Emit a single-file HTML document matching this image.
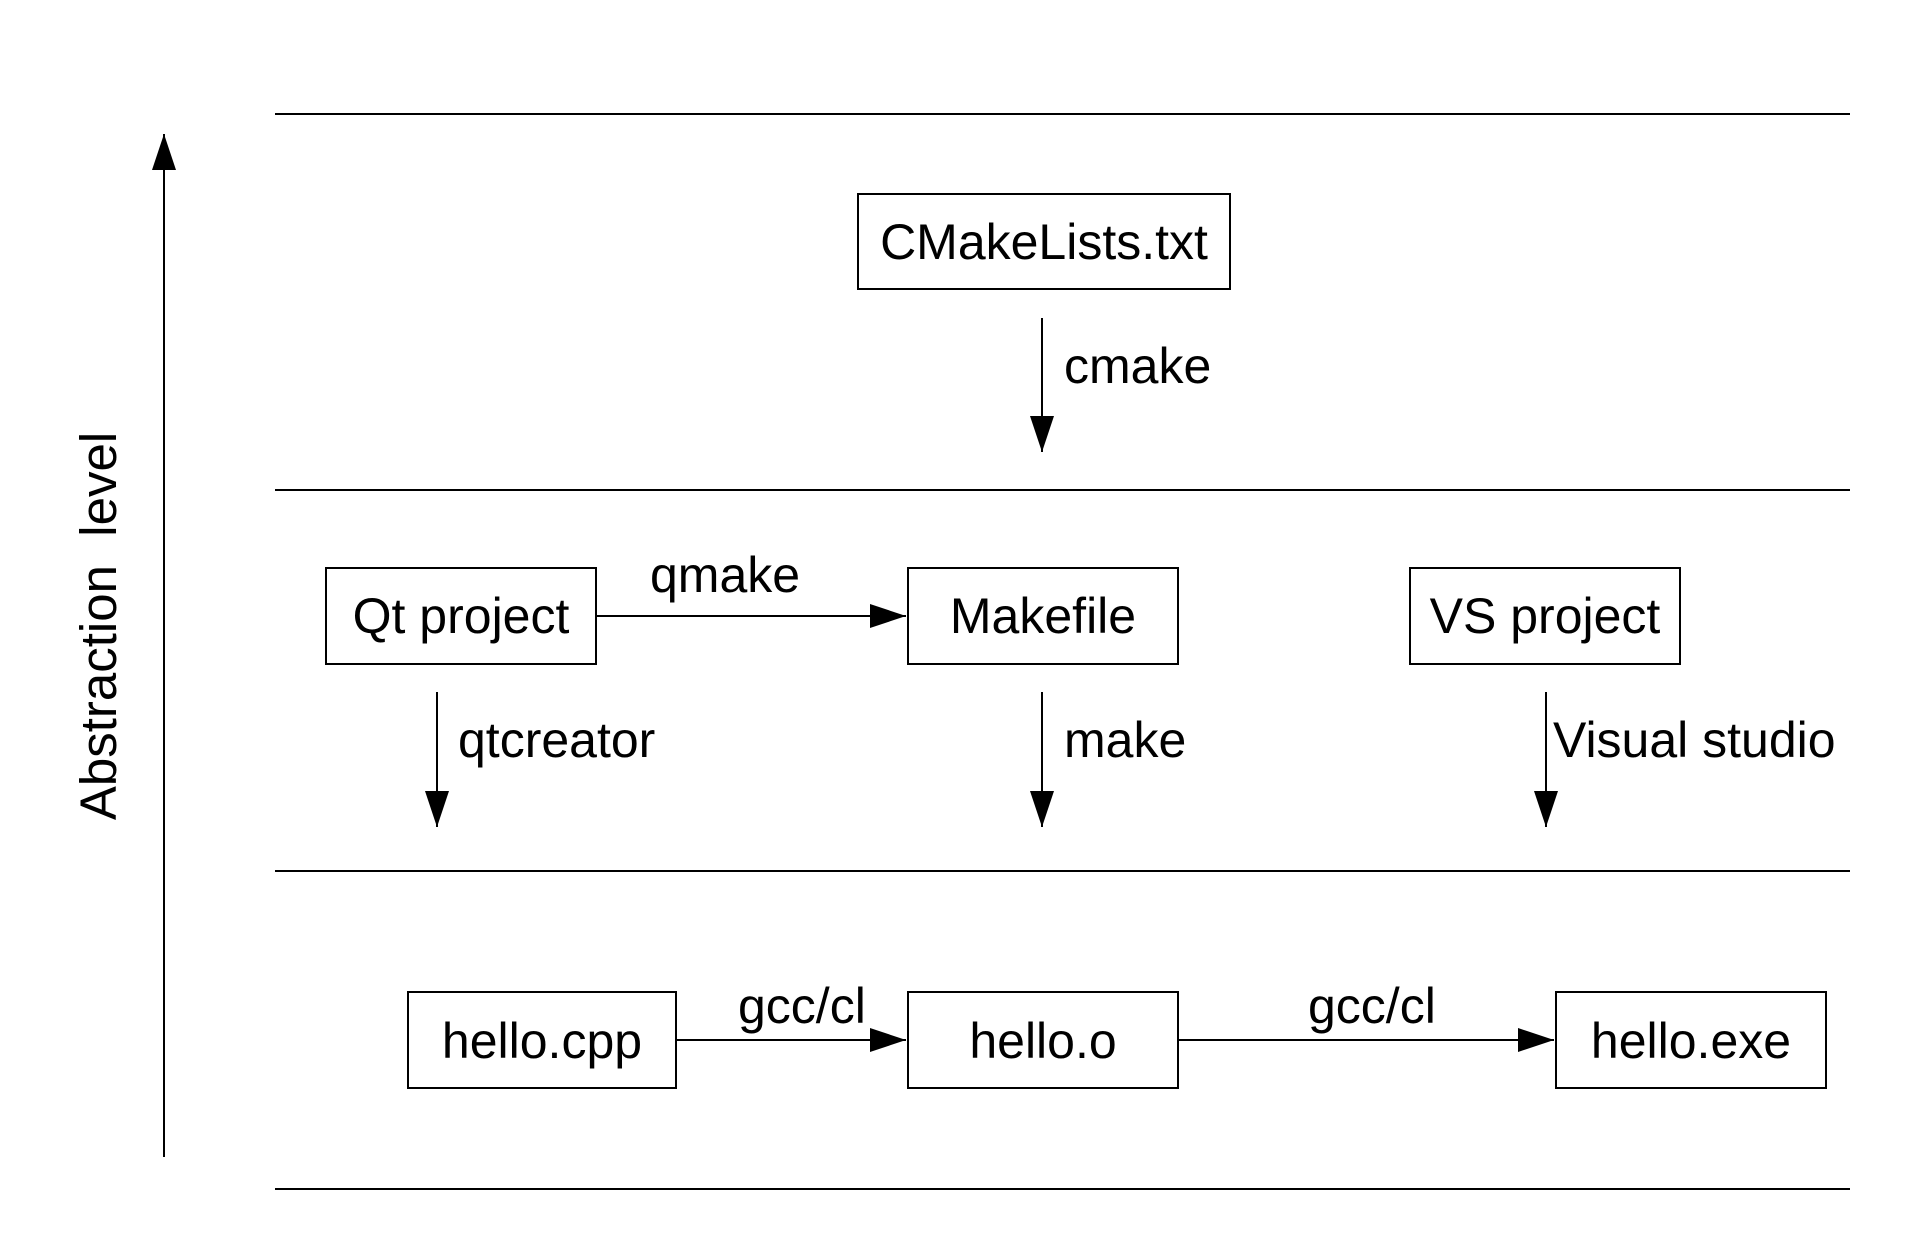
<!DOCTYPE html>
<html><head><meta charset="utf-8"><style>
html,body{margin:0;padding:0;background:#fff;}
svg{display:block;}
text{font-family:"Liberation Sans",Arial,sans-serif;fill:#000;}
</style></head><body>
<svg width="1916" height="1240" viewBox="0 0 1916 1240" xmlns="http://www.w3.org/2000/svg">
<defs>
<marker id="ah" markerWidth="36" markerHeight="24" refX="36" refY="12" orient="auto" markerUnits="userSpaceOnUse">
<path d="M0,0 L36,12 L0,24 Z" fill="#000"/>
</marker>
</defs>
<g stroke="#000" stroke-width="2">
<line x1="275" y1="114" x2="1850" y2="114"/>
<line x1="275" y1="490" x2="1850" y2="490"/>
<line x1="275" y1="871" x2="1850" y2="871"/>
<line x1="275" y1="1189" x2="1850" y2="1189"/>
</g>
<line x1="164" y1="1157" x2="164" y2="134" stroke="#000" stroke-width="2" marker-end="url(#ah)"/>
<text transform="translate(116,626) rotate(-90)" text-anchor="middle" font-size="51" xml:space="preserve">Abstraction  level</text>
<g fill="none" stroke="#000" stroke-width="2">
<rect x="858" y="194" width="372" height="95"/>
<rect x="326" y="568" width="270" height="96"/>
<rect x="908" y="568" width="270" height="96"/>
<rect x="1410" y="568" width="270" height="96"/>
<rect x="408" y="992" width="268" height="96"/>
<rect x="908" y="992" width="270" height="96"/>
<rect x="1556" y="992" width="270" height="96"/>
</g>
<g stroke="#000" stroke-width="2" marker-end="url(#ah)">
<line x1="1042" y1="318" x2="1042" y2="452"/>
<line x1="596" y1="616" x2="906" y2="616"/>
<line x1="437" y1="692" x2="437" y2="827"/>
<line x1="1042" y1="692" x2="1042" y2="827"/>
<line x1="1546" y1="692" x2="1546" y2="827"/>
<line x1="676" y1="1040" x2="906" y2="1040"/>
<line x1="1178" y1="1040" x2="1554" y2="1040"/>
</g>
<g font-size="50" text-anchor="middle">
<text x="1044" y="259">CMakeLists.txt</text>
<text x="461" y="633">Qt project</text>
<text x="1043" y="633">Makefile</text>
<text x="1545" y="633">VS project</text>
<text x="542" y="1058">hello.cpp</text>
<text x="1043" y="1058">hello.o</text>
<text x="1691" y="1058">hello.exe</text>
</g>
<g font-size="50">
<text x="1064" y="383">cmake</text>
<text x="650" y="592">qmake</text>
<text x="458" y="757">qtcreator</text>
<text x="1064" y="757">make</text>
<text x="1553" y="757">Visual studio</text>
<text x="738" y="1023">gcc/cl</text>
<text x="1308" y="1023">gcc/cl</text>
</g>
</svg>
</body></html>
